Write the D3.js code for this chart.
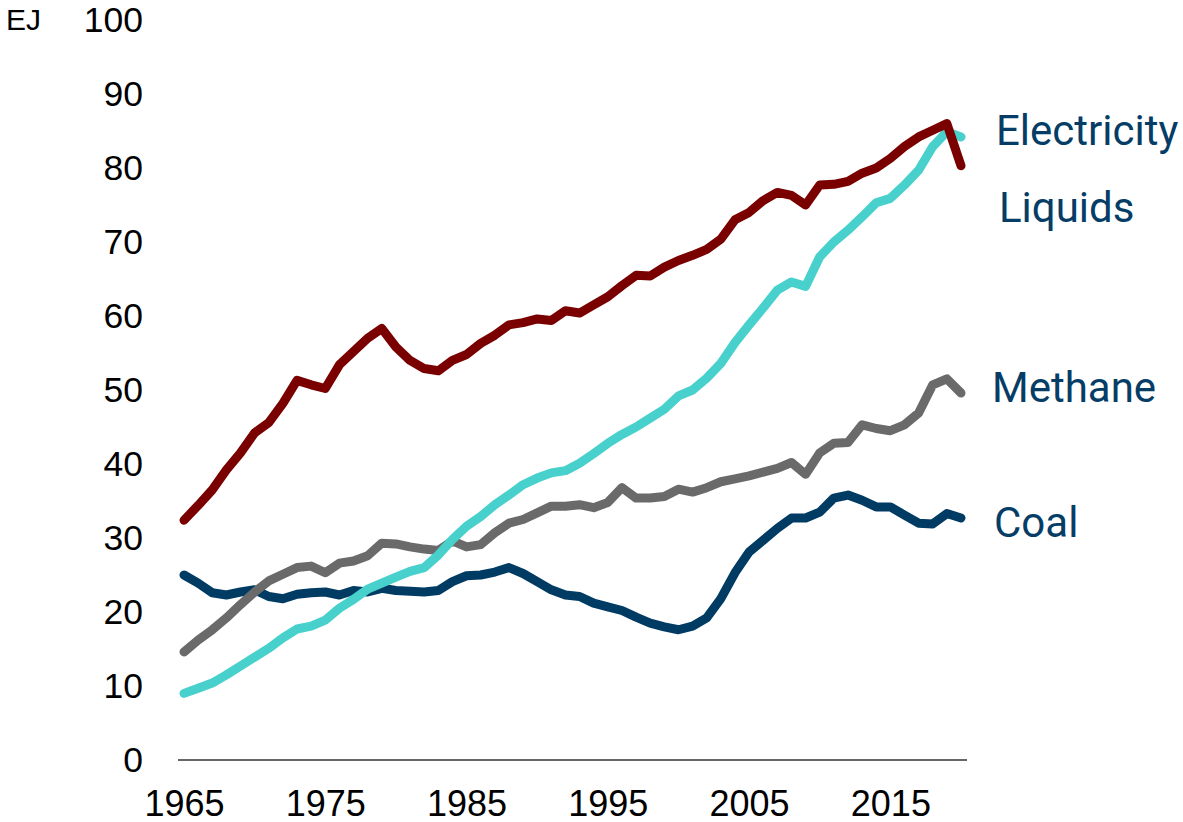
<!DOCTYPE html>
<html>
<head>
<meta charset="utf-8">
<script src="https://cdn.jsdelivr.net/npm/d3@7"></script>
<style>
  html, body { margin: 0; padding: 0; background: #ffffff; }
  svg { display: block; }
</style>
</head>
<body>
<svg id="chart" width="1183" height="822"></svg>
<script>
const years = d3.range(1965, 2021);
const xTickYears = [1965, 1975, 1985, 1995, 2005, 2015];
const yTickValues = [0, 10, 20, 30, 40, 50, 60, 70, 80, 90, 100];
const unitLabel = "EJ";

const seriesNames = ["Coal", "Methane", "Electricity", "Liquids"];

const liquids = [
  32.4, 34.4, 36.5, 39.2, 41.5, 44.2, 45.6, 48.2, 51.3, 50.7,
  50.2, 53.4, 55.2, 57.0, 58.3, 55.8, 54.0, 52.9, 52.6, 54.0,
  54.8, 56.3, 57.4, 58.8, 59.1, 59.6, 59.4, 60.7, 60.4, 61.5,
  62.6, 64.1, 65.5, 65.4, 66.6, 67.5, 68.2, 69.0, 70.4, 73.0,
  74.0, 75.6, 76.7, 76.3, 75.0, 77.7, 77.8, 78.2, 79.3, 80.0,
  81.3, 82.9, 84.2, 85.1, 86.0, 80.3
];
const electricity = [
  9.0, 9.7, 10.4, 11.5, 12.7, 13.9, 15.1, 16.5, 17.7, 18.1,
  18.9, 20.5, 21.7, 23.1, 23.9, 24.7, 25.5, 26.0, 27.7, 29.8,
  31.6, 32.9, 34.5, 35.8, 37.2, 38.1, 38.8, 39.1, 40.1, 41.4,
  42.8, 44.0, 45.0, 46.2, 47.4, 49.2, 50.0, 51.6, 53.6, 56.4,
  58.8, 61.1, 63.5, 64.6, 64.0, 68.0, 70.0, 71.6, 73.4, 75.3,
  75.9, 77.7, 79.7, 82.9, 84.9, 84.2
];
const methane = [
  14.6, 16.2, 17.6, 19.2, 21.0, 22.7, 24.2, 25.1, 26.0, 26.2,
  25.3, 26.6, 26.9, 27.6, 29.3, 29.2, 28.8, 28.5, 28.3, 29.6,
  28.8, 29.1, 30.7, 32.0, 32.5, 33.4, 34.3, 34.3, 34.5, 34.1,
  34.8, 36.8, 35.4, 35.4, 35.6, 36.6, 36.2, 36.8, 37.6, 38.0,
  38.4, 38.9, 39.4, 40.2, 38.6, 41.5, 42.8, 42.9, 45.3, 44.8,
  44.5, 45.3, 46.9, 50.7, 51.5, 49.6
];
const coal = [
  25.0, 23.9, 22.6, 22.3, 22.7, 23.0, 22.1, 21.8, 22.4, 22.6,
  22.7, 22.3, 22.9, 22.7, 23.2, 22.9, 22.8, 22.7, 22.9, 24.1,
  24.9, 25.0, 25.4, 26.0, 25.2, 24.1, 23.0, 22.3, 22.1, 21.2,
  20.7, 20.2, 19.3, 18.5, 18.0, 17.6, 18.1, 19.2, 21.8, 25.3,
  28.1, 29.7, 31.3, 32.7, 32.7, 33.5, 35.4, 35.8, 35.1, 34.2,
  34.2, 33.1, 32.0, 31.9, 33.3, 32.7
];

// ---- drawing ----
const svg = d3.select("#chart");
const x = d3.scaleLinear().domain([1965, 2020]).range([184, 961]);
const y = d3.scaleLinear().domain([0, 100]).range([760, 20]);

const tickFont = "'Liberation Sans', Arial, sans-serif";
const labelFont = "Roboto, 'Noto Sans', sans-serif";

// y axis labels
const yAxis = svg.append("g")
  .attr("transform", `translate(${x(1965) - 6},0)`)
  .call(d3.axisLeft(y).tickValues(yTickValues).tickSize(0).tickPadding(35));
yAxis.select(".domain").remove();
yAxis.selectAll("text")
  .attr("font-family", tickFont).attr("font-size", 35.5).attr("fill", "#000");

// x axis labels
const xAxis = svg.append("g")
  .attr("transform", `translate(0,${y(0)})`)
  .call(d3.axisBottom(x).tickValues(xTickYears).tickFormat(d3.format("d")).tickSize(0).tickPadding(30));
xAxis.select(".domain").remove();
xAxis.selectAll("text")
  .attr("font-family", tickFont).attr("font-size", 36).attr("fill", "#000");

// baseline
svg.append("line")
  .attr("x1", x(1965) - 6).attr("x2", x(2020) + 6)
  .attr("y1", y(0)).attr("y2", y(0))
  .attr("stroke", "#333").attr("stroke-width", 1.5);

// unit label
svg.append("text")
  .attr("x", 6).attr("y", 30)
  .attr("font-family", tickFont).attr("font-size", 30).attr("fill", "#000")
  .text(unitLabel);

const seriesData = { Coal: coal, Methane: methane, Electricity: electricity, Liquids: liquids };
const colors = { Coal: "#003b63", Methane: "#6a6a6a", Electricity: "#48d1cc", Liquids: "#7a0000" };

const line = d3.line().x((d, i) => x(years[i])).y(d => y(d));

seriesNames.forEach(name => {
  svg.append("path")
    .datum(seriesData[name])
    .attr("d", line)
    .attr("fill", "none")
    .attr("stroke", colors[name])
    .attr("stroke-width", 9)
    .attr("stroke-linejoin", "round")
    .attr("stroke-linecap", "round");
});

// series labels
const labelPos = { Electricity: 85.1, Liquids: 74.7, Methane: 50.4, Coal: 32.2 };
const labelDx = { Electricity: 35, Liquids: 38, Methane: 31, Coal: 33 };
Object.keys(labelPos).forEach(name => {
  svg.append("text")
    .attr("x", x(2020) + labelDx[name])
    .attr("y", y(labelPos[name]))
    .attr("dy", "0.36em")
    .attr("font-family", labelFont)
    .attr("font-size", 42)
    .attr("fill", "#053d66")
    .text(name);
});
</script>
</body>
</html>
